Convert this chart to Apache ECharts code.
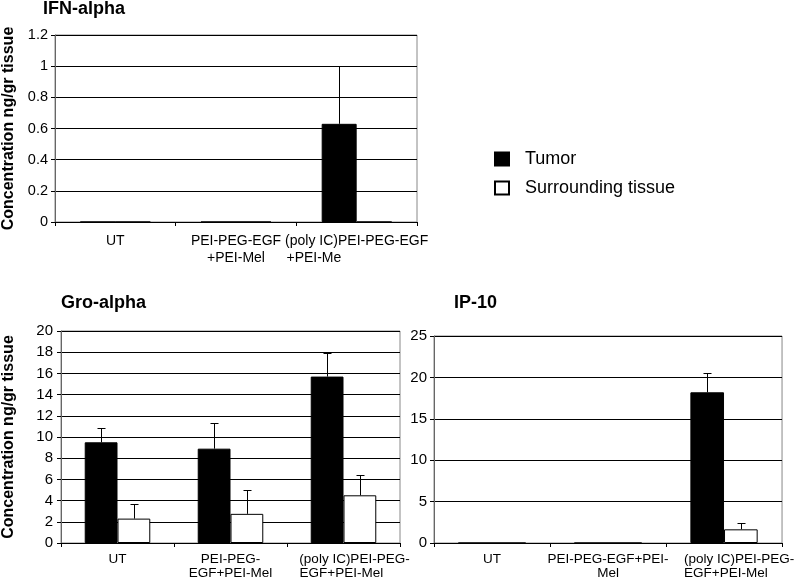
<!DOCTYPE html>
<html><head><meta charset="utf-8">
<script src="https://cdn.jsdelivr.net/npm/echarts@6/dist/echarts.min.js"></script>
<style>html,body{margin:0;padding:0;background:#fff}#c{width:797px;height:581px}</style>
</head><body><div id="c"></div>
<script>
const NB = '\u00a0';
// ---- data ----
const ifnCategories = ['UT', 'PEI-PEG-EGF\n+PEI-Mel', '(poly IC)PEI-PEG-EGF\n+PEI-Me' + NB.repeat(22)];
const groCategories = ['UT', 'PEI-PEG-\nEGF+PEI-Mel', '(poly IC)PEI-PEG-\nEGF+PEI-Mel' + NB.repeat(7)];
const ipCategories  = ['UT', 'PEI-PEG-EGF+PEI-\nMel', '(poly IC)PEI-PEG-\nEGF+PEI-Mel' + NB.repeat(7)];

const ifnTumor = [0, 0, 0.63];
const ifnTumorErrTop = [null, null, 1.0];
const ifnSurround = [0, 0, 0];
const ifnSurroundErrTop = [null, null, null];

const groTumor = [9.5, 8.9, 15.7];
const groTumorErrTop = [10.85, 11.3, 17.9];
const groSurround = [2.3, 2.75, 4.5];
const groSurroundErrTop = [3.65, 5.0, 6.4];

const ipTumor = [0, 0, 18.2];
const ipTumorErrTop = [null, null, 20.5];
const ipSurround = [0, 0, 1.65];
const ipSurroundErrTop = [null, null, 2.4];

const ifnTicks = {min: 0, max: 1.2, interval: 0.2};
const groTicks = {min: 0, max: 20, interval: 2};
const ipTicks  = {min: 0, max: 25, interval: 5};

const seriesNames = ['Tumor', 'Surrounding tissue'];
const panelTitles = ['IFN-alpha', 'Gro-alpha', 'IP-10'];
const yTitle = 'Concentration ng/gr tissue';

// ---- rendering ----
const FONT = '"Liberation Sans", Arial, sans-serif';
const BAR_FRAC = 0.29;

function catItems(cats, thirdPad) {
  return cats.map((c, i) => (i === 2 && thirdPad) ? {value: c, textStyle: {padding: [0, 0, 0, thirdPad]}} : c);
}
function xAxis(gi, cats, fs, lh, margin, thirdPad) {
  return {
    type: 'category', gridIndex: gi, data: catItems(cats, thirdPad),
    axisLine: {lineStyle: {color: '#000', width: 1}},
    axisTick: {show: true, length: 4, lineStyle: {color: '#000'}},
    axisLabel: {color: '#000', fontFamily: FONT, fontSize: fs, lineHeight: lh, margin: margin, interval: 0}
  };
}
function yAxis(gi, t, fs, margin, name, nameGap) {
  return {
    type: 'value', gridIndex: gi, min: t.min, max: t.max, interval: t.interval,
    axisLine: {show: true, lineStyle: {color: '#666', width: 1}},
    axisTick: {show: true, length: 4, lineStyle: {color: '#000'}},
    axisLabel: {color: '#000', fontFamily: FONT, fontSize: fs, margin: margin},
    splitLine: {show: true, lineStyle: {color: '#000', width: 1}},
    name: name || '', nameLocation: 'middle', nameRotate: 90, nameGap: nameGap || 0,
    nameTextStyle: {color: '#000', fontFamily: FONT, fontWeight: 'bold', fontSize: 16}
  };
}
function bars(gi, tumor, surround) {
  return [
    {name: seriesNames[0], type: 'bar', xAxisIndex: gi, yAxisIndex: gi, data: tumor,
     barWidth: (BAR_FRAC * 100) + '%', barGap: '0%',
     itemStyle: {color: '#000', borderColor: '#000', borderWidth: 1}, emphasis: {disabled: true}},
    {name: seriesNames[1], type: 'bar', xAxisIndex: gi, yAxisIndex: gi, data: surround,
     barWidth: (BAR_FRAC * 100) + '%', barGap: '0%',
     itemStyle: {color: '#fff', borderColor: '#000', borderWidth: 1}, emphasis: {disabled: true}}
  ];
}
function errSeries(gi, vals, tops, side) {
  const data = [];
  vals.forEach((v, i) => { if (tops[i] != null) data.push([i, tops[i], v]); });
  return {
    type: 'custom', xAxisIndex: gi, yAxisIndex: gi, data: data, z: 5, silent: true,
    renderItem: function (params, api) {
      const i = api.value(0), hi = api.value(1), lo = api.value(2);
      const b = api.coord([i, lo]);
      const t = api.coord([i, hi]);
      const bw = api.size([1, 0])[0] * BAR_FRAC;
      const x = Math.round(b[0] + side * bw / 2) + 0.5;
      const yt = Math.round(t[1]) + 0.5;
      return {type: 'group', children: [
        {type: 'line', shape: {x1: x, y1: b[1], x2: x, y2: yt}, style: {stroke: '#000', lineWidth: 1}},
        {type: 'line', shape: {x1: x - 4, y1: yt, x2: x + 4, y2: yt}, style: {stroke: '#000', lineWidth: 1}}
      ]};
    }
  };
}

const chart = echarts.init(document.getElementById('c'), null, {renderer: 'canvas'});
chart.setOption({
  animation: false,
  backgroundColor: '#fff',
  graphic: [
    {type: 'text', left: 43, top: 0, style: {text: panelTitles[0], font: 'bold 18px ' + FONT, fill: '#000'}},
    {type: 'text', left: 61, top: 294, style: {text: panelTitles[1], font: 'bold 18px ' + FONT, fill: '#000'}},
    {type: 'text', left: 454, top: 294, style: {text: panelTitles[2], font: 'bold 18px ' + FONT, fill: '#000'}}
  ],
  legend: {
    orient: 'vertical', left: 494, top: 150, padding: 0, itemWidth: 14, itemHeight: 13, itemGap: 11,
    icon: 'rect', data: seriesNames, selectedMode: false,
    textStyle: {color: '#000', fontFamily: FONT, fontSize: 18, lineHeight: 17, padding: [0, 0, 0, 11]}
  },
  grid: [
    {left: 46, top: 35, width: 371, height: 187, show: true, borderColor: '#888', borderWidth: 1},
    {left: 52, top: 331, width: 348, height: 215, show: true, borderColor: '#888', borderWidth: 1},
    {left: 434, top: 336, width: 349, height: 210, show: true, borderColor: '#888', borderWidth: 1}
  ],
  xAxis: [
    xAxis(0, ifnCategories, 14, 16.7, 11, 0),
    xAxis(1, groCategories, 13.5, 14.5, 9, 22),
    xAxis(2, ipCategories, 13.5, 14.5, 9, 30)
  ],
  yAxis: [
    yAxis(0, ifnTicks, 14.5, 7, yTitle, 38),
    yAxis(1, groTicks, 15, 8, yTitle, 44),
    yAxis(2, ipTicks, 15, 7)
  ],
  series: [].concat(
    bars(0, ifnTumor, ifnSurround),
    bars(1, groTumor, groSurround),
    bars(2, ipTumor, ipSurround),
    [errSeries(0, ifnTumor, ifnTumorErrTop, -1),
     errSeries(0, ifnSurround, ifnSurroundErrTop, 1),
     errSeries(1, groTumor, groTumorErrTop, -1),
     errSeries(1, groSurround, groSurroundErrTop, 1),
     errSeries(2, ipTumor, ipTumorErrTop, -1),
     errSeries(2, ipSurround, ipSurroundErrTop, 1)]
  )
});
</script>
</body></html>
